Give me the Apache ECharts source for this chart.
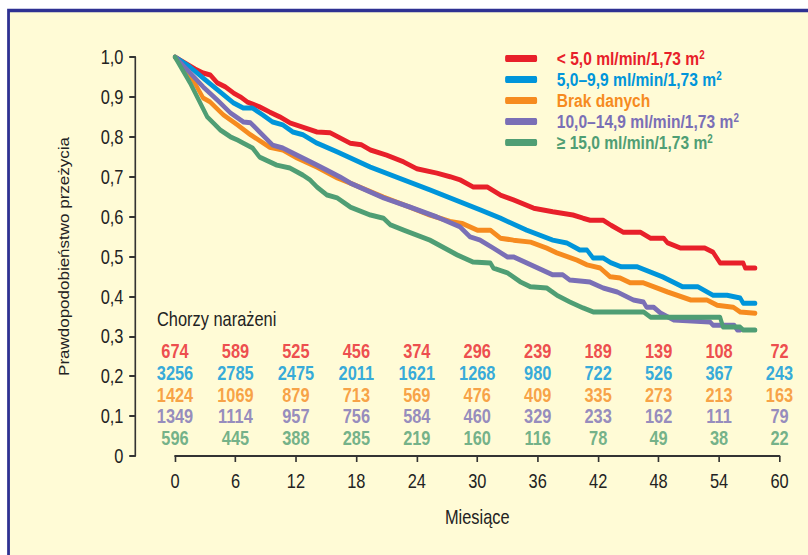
<!DOCTYPE html>
<html>
<head>
<meta charset="utf-8">
<script src="https://cdn.jsdelivr.net/npm/echarts@6/dist/echarts.min.js"></script>
<style>
  html, body { margin: 0; padding: 0; background: #fff; overflow: hidden; }
  /* the original figure is a condensed face; draw wider and squeeze horizontally */
  #main { width: 986px; height: 555px; transform: scaleX(0.82); transform-origin: 0 0; }
</style>
</head>
<body>
<div id="main"></div>
<script>
// survival curves, [month, probability]
const lt5 = [[0,1],[1,0.985],[2,0.97],[2.8,0.96],[3.5,0.955],[4.2,0.935],[5,0.925],[5.8,0.91],[6.5,0.9],[7.2,0.887],[8.4,0.875],[9.4,0.862],[10.4,0.85],[11.4,0.835],[12.6,0.825],[14.1,0.812],[15.4,0.81],[16.4,0.797],[17.4,0.784],[18.5,0.78],[19.4,0.767],[21,0.754],[22.7,0.737],[24,0.72],[26,0.709],[27.3,0.7],[28.3,0.692],[29.6,0.674],[31,0.674],[32.3,0.654],[33.6,0.642],[35.6,0.621],[37.5,0.612],[39.5,0.604],[40.5,0.596],[41.2,0.591],[42.5,0.591],[43.3,0.578],[44.5,0.561],[46.2,0.561],[47.2,0.546],[48.5,0.546],[48.9,0.534],[50.2,0.521],[52.6,0.521],[53.4,0.511],[54.1,0.484],[56.4,0.484],[56.6,0.471],[57.6,0.471]]
const from5to10 = [[0,1],[1.5,0.975],[2.8,0.947],[4.5,0.912],[5.8,0.885],[6.8,0.872],[7.7,0.872],[8.7,0.855],[9.7,0.837],[10.7,0.83],[11.7,0.812],[12.7,0.805],[14.1,0.784],[16.1,0.762],[19.4,0.724],[22.7,0.692],[25.3,0.667],[27.3,0.647],[28.3,0.637],[30.3,0.617],[32.3,0.596],[34.9,0.566],[37.5,0.541],[38.9,0.534],[40.2,0.516],[40.9,0.516],[41.5,0.496],[42.5,0.496],[43.3,0.484],[44.3,0.474],[45.9,0.474],[48.4,0.449],[50.4,0.424],[51.9,0.424],[53.4,0.403],[54.8,0.403],[56.1,0.396],[56.4,0.383],[57.6,0.383]]
const noData = [[0,1],[1.8,0.942],[2.8,0.897],[3.5,0.887],[4.8,0.855],[6.2,0.83],[7.5,0.805],[9.4,0.774],[10.7,0.767],[12.1,0.747],[14.1,0.724],[16.1,0.697],[17.4,0.684],[20.7,0.649],[23.3,0.624],[25.3,0.604],[27.3,0.588],[28.5,0.583],[30,0.566],[31.3,0.566],[32.3,0.546],[33.6,0.541],[35.3,0.536],[36.9,0.521],[37.9,0.509],[39.9,0.491],[40.9,0.479],[42.2,0.471],[43.2,0.449],[44.2,0.446],[45.2,0.434],[46.5,0.434],[48.9,0.411],[51.2,0.391],[52.8,0.391],[53.8,0.378],[55.4,0.373],[56.1,0.361],[57.6,0.358]]
const from10to15 = [[0,1],[1.5,0.96],[2.8,0.925],[4.2,0.892],[5.5,0.86],[6.8,0.837],[7.5,0.835],[8.4,0.812],[9.7,0.779],[10.7,0.772],[12.1,0.754],[14.1,0.729],[15.4,0.712],[16.4,0.699],[17.4,0.684],[20.7,0.647],[23.3,0.624],[26,0.599],[28.3,0.574],[29.3,0.549],[30.3,0.541],[31.6,0.521],[33,0.499],[33.6,0.499],[34.9,0.484],[37.5,0.454],[38.5,0.454],[39.2,0.441],[41.2,0.436],[42.5,0.421],[43.9,0.411],[45.5,0.391],[46.5,0.386],[46.8,0.373],[47.5,0.373],[48.2,0.358],[49.5,0.341],[53.1,0.336],[53.4,0.328],[55.5,0.328],[55.8,0.316],[56.1,0.316]]
const ge15 = [[0,1],[1.5,0.935],[3.2,0.85],[3.8,0.835],[4.5,0.817],[5.5,0.8],[6.2,0.792],[6.8,0.784],[7.7,0.772],[8.4,0.749],[10.1,0.729],[11.4,0.722],[12.7,0.704],[13.4,0.692],[14.1,0.674],[15.1,0.654],[16.1,0.647],[17.4,0.624],[19.4,0.604],[20.7,0.596],[21.4,0.579],[22.7,0.566],[25.3,0.541],[28,0.504],[29.6,0.486],[31.3,0.484],[31.6,0.471],[33,0.459],[34.3,0.436],[35.3,0.424],[36.9,0.421],[37.9,0.403],[39.2,0.386],[40.5,0.371],[41.5,0.361],[46.5,0.361],[47.2,0.348],[54.1,0.348],[54.4,0.323],[56.1,0.323],[56.4,0.316],[57.6,0.316]]

const groupNames = ['< 5,0 ml/min/1,73 m', '5,0–9,9 ml/min/1,73 m', 'Brak danych', '10,0–14,9 ml/min/1,73 m', '≥ 15,0 ml/min/1,73 m']
const colors = ['#e8202a', '#0095da', '#f68b1f', '#7a6fb6', '#4f9e74']

// number at risk, one row per group
const riskMonths = [0, 6, 12, 18, 24, 30, 36, 42, 48, 54, 60]
const riskLt5 = [674, 589, 525, 456, 374, 296, 239, 189, 139, 108, 72]
const risk5to10 = [3256, 2785, 2475, 2011, 1621, 1268, 980, 722, 526, 367, 243]
const riskNoData = [1424, 1069, 879, 713, 569, 476, 409, 335, 273, 213, 163]
const risk10to15 = [1349, 1114, 957, 756, 584, 460, 329, 233, 162, 111, 79]
const riskGe15 = [596, 445, 388, 285, 219, 160, 116, 78, 49, 38, 22]

const FONT = '"Liberation Sans", Arial, sans-serif'
const rowLevel = [0.2644, 0.208, 0.154, 0.1003, 0.0451] // vertical place of each row, in axis units

const curves = [lt5, from5to10, noData, from10to15, ge15]
const risks = [riskLt5, risk5to10, riskNoData, risk10to15, riskGe15]

const lineSeries = curves.map((d, i) => ({
    name: groupNames[i],
    type: 'line',
    data: d,
    symbol: 'none',
    silent: true,
    lineStyle: { color: colors[i], width: 5, cap: 'round', join: 'round' },
    itemStyle: { color: colors[i] },
    z: 3
}))

const riskSeries = risks.map((r, i) => ({
    name: 'risk' + i,
    type: 'scatter',
    symbolSize: 1,
    itemStyle: { color: 'rgba(0,0,0,0)' },
    clip: false,
    silent: true,
    data: r.map((n, k) => [riskMonths[k], rowLevel[i], n]),
    label: {
        show: true,
        position: 'inside',
        formatter: p => p.value[2],
        color: colors[i],
        textBorderWidth: 0,
        fontFamily: FONT,
        fontWeight: 'bold',
        fontSize: 20
    },
    labelLayout: { hideOverlap: false },
    z: 50
}))

const myChart = echarts.init(document.getElementById('main'), null, { renderer: 'svg' })
myChart.setOption({
    backgroundColor: '#fff',
    animation: false,
    graphic: [
        {
            type: 'rect',
            shape: { x: 10.4, y: 10.5, width: 1100, height: 700 },
            style: { fill: '#fffbd6', stroke: '#2e3192', lineWidth: 3.4 },
            z: -10
        },
        {
            type: 'text',
            left: 191.5,
            top: 309,
            style: { text: 'Chorzy narażeni', font: '20px ' + FONT, fill: '#222' }
        }
    ],
    grid: { left: 213.4, right: 35.4, top: 57, bottom: 99 },
    legend: {
        orient: 'vertical',
        left: 611,
        top: 44,
        itemWidth: 39,
        itemHeight: 7,
        itemGap: 2,
        icon: 'roundRect',
        selectedMode: false,
        data: groupNames.map((n, i) => ({ name: n, textStyle: { color: colors[i] } })),
        formatter: n => n === 'Brak danych' ? '{c|' + n + '}' : '{c|' + n + '}{s|2}',
        textStyle: {
            padding: [0, 0, 0, 19],
            rich: {
                c: { fontFamily: FONT, fontWeight: 'bold', fontSize: 19, lineHeight: 19 },
                s: { fontFamily: FONT, fontWeight: 'bold', fontSize: 12, lineHeight: 19, verticalAlign: 'top' }
            }
        }
    },
    xAxis: {
        type: 'value',
        min: 0,
        max: 60,
        interval: 6,
        offset: 1,
        name: 'Miesiące',
        nameLocation: 'middle',
        nameGap: 50,
        nameTextStyle: { fontFamily: FONT, fontSize: 20, color: '#222' },
        axisLine: { lineStyle: { color: '#333', width: 2 } },
        axisTick: { length: 6, lineStyle: { color: '#333', width: 2 } },
        axisLabel: { margin: 14, fontFamily: FONT, fontSize: 20, color: '#222' },
        splitLine: { show: false }
    },
    yAxis: {
        type: 'value',
        min: 0,
        max: 1,
        interval: 0.1,
        offset: 48.8,
        name: 'Prawdopodobieństwo przeżycia',
        nameLocation: 'middle',
        nameGap: 78,
        nameTextStyle: { fontFamily: FONT, fontSize: 17, color: '#222' },
        axisLine: { show: true, onZero: false, lineStyle: { color: '#333', width: 2 } },
        axisTick: { show: true, length: 7, lineStyle: { color: '#333', width: 2 } },
        axisLabel: {
            margin: 14,
            fontFamily: FONT,
            fontSize: 20,
            color: '#222',
            formatter: v => v === 0 ? '0' : v.toFixed(1).replace('.', ',')
        },
        splitLine: { show: false }
    },
    series: lineSeries.concat(riskSeries)
})
</script>
</body>
</html>
